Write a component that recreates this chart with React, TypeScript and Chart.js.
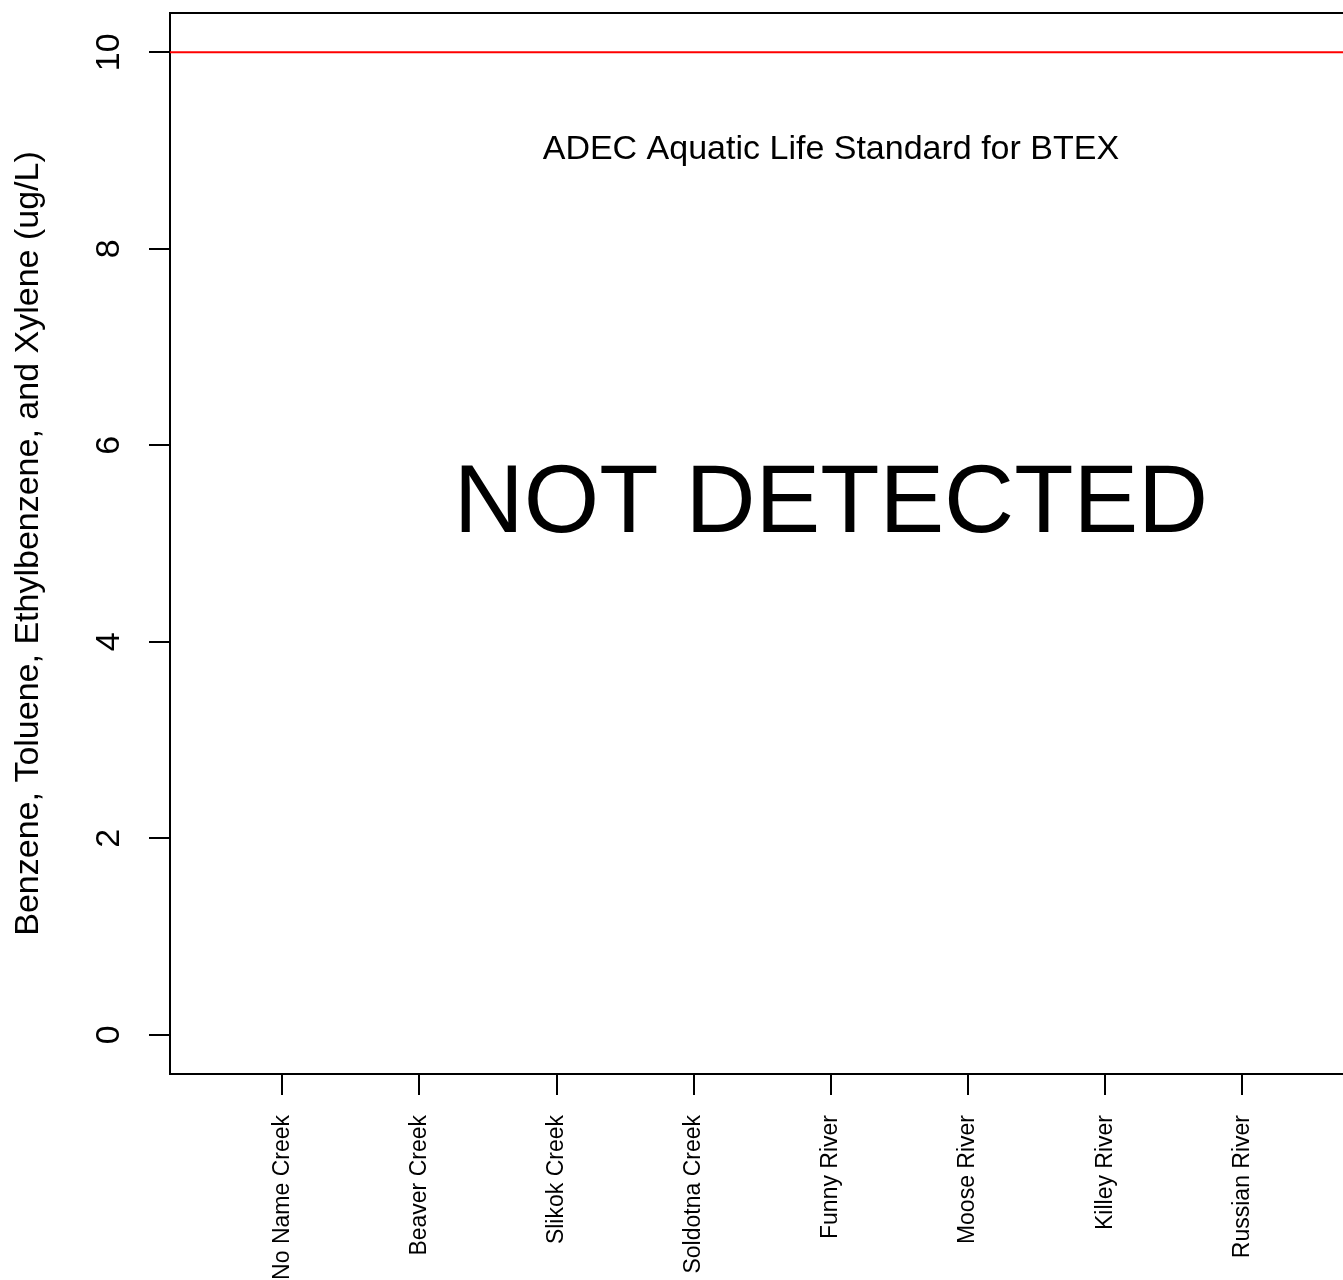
import React, { useEffect, useRef } from "react";
import { Chart, registerables } from "chart.js";

Chart.register(...registerables);

// ---- data ----
const sites = [
  "No Name Creek",
  "Beaver Creek",
  "Slikok Creek",
  "Soldotna Creek",
  "Funny River",
  "Moose River",
  "Killey River",
  "Russian River",
];
const sitePositions = [1, 2, 3, 4, 5, 6, 7, 8];
// BTEX concentrations: none detected at any site
const btexValues: (number | null)[] = [null, null, null, null, null, null, null, null];
const yTickValues = [0, 2, 4, 6, 8, 10];
const yRange = [-0.4, 10.4];
const xRange = [0.181, 8.734];
const standardValue = 10;
const standardLabel = "ADEC Aquatic Life Standard for BTEX";
const standardLabelPos = [5, 9];
const notDetectedLabel = "NOT DETECTED";
const notDetectedPos = [5, 5.5];
const yAxisTitle = "Benzene, Toluene, Ethylbenzene, and Xylene (ug/L)";

const FONT = "'Liberation Sans', Arial, Helvetica, sans-serif";

const textPlugin = {
  id: "plotText",
  afterDatasetsDraw(chart: any) {
    const { ctx, scales } = chart;
    const xs = scales.x;
    const ys = scales.y;
    ctx.save();
    ctx.fillStyle = "#000";
    ctx.textAlign = "center";
    ctx.textBaseline = "alphabetic";
    ctx.font = `34px ${FONT}`;
    ctx.fillText(
      standardLabel,
      xs.getPixelForValue(standardLabelPos[0]),
      ys.getPixelForValue(standardLabelPos[1]) + 8.3
    );
    ctx.font = `97px ${FONT}`;
    ctx.fillText(
      notDetectedLabel,
      xs.getPixelForValue(notDetectedPos[0]),
      ys.getPixelForValue(notDetectedPos[1]) + 37.3
    );
    ctx.restore();
  },
};

const zeroPad = (s: any) => {
  s.paddingTop = 0;
  s.paddingBottom = 0;
  s.paddingLeft = 0;
  s.paddingRight = 0;
};

export default function App() {
  const ref = useRef<HTMLCanvasElement | null>(null);

  useEffect(() => {
    document.body.style.margin = "0";
    const canvas = ref.current!;
    const chart = new Chart(canvas, {
      type: "line",
      data: {
        datasets: [
          {
            type: "line",
            label: "standard",
            data: [
              { x: xRange[0], y: standardValue },
              { x: xRange[1], y: standardValue },
            ],
            borderColor: "#FF0000",
            borderWidth: 2,
            pointRadius: 0,
            xAxisID: "x",
            yAxisID: "y",
          },
          {
            type: "scatter",
            label: "BTEX",
            data: sitePositions.map((p, i) => ({ x: p, y: btexValues[i] as any })),
            pointRadius: 4,
            backgroundColor: "#000",
            xAxisID: "x",
            yAxisID: "y",
          },
        ],
      },
      plugins: [textPlugin],
      options: {
        animation: false,
        responsive: false,
        devicePixelRatio: 1,
        layout: { padding: 0, autoPadding: false },
        plugins: { legend: { display: false }, tooltip: { enabled: false } },
        scales: {
          x: {
            type: "linear",
            position: "bottom",
            min: xRange[0],
            max: xRange[1],
            afterBuildTicks: (s: any) => {
              s.ticks = sitePositions.map((v) => ({ value: v }));
            },
            afterFit: (s: any) => {
              s.height = 206;
              zeroPad(s);
            },
            ticks: {
              autoSkip: false,
              minRotation: 90,
              maxRotation: 90,
              padding: 20,
              color: "#000",
              font: { family: FONT, size: 23 },
              callback: (v: any) => {
                const i = sitePositions.indexOf(Number(v));
                return i >= 0 ? sites[i] : "";
              },
            },
            grid: {
              display: true,
              drawOnChartArea: false,
              drawTicks: true,
              tickLength: 21,
              lineWidth: 2,
              color: "#000",
            },
            border: { display: true, color: "#000", width: 2 },
          },
          xTop: {
            type: "linear",
            position: "top",
            min: xRange[0],
            max: xRange[1],
            afterFit: (s: any) => {
              s.height = 13;
              zeroPad(s);
            },
            ticks: { display: false },
            grid: { display: true, drawOnChartArea: false, drawTicks: false },
            border: { display: true, color: "#000", width: 2 },
          },
          y: {
            type: "linear",
            position: "left",
            min: yRange[0],
            max: yRange[1],
            afterBuildTicks: (s: any) => {
              s.ticks = yTickValues.map((v) => ({ value: v }));
            },
            afterFit: (s: any) => {
              s.width = 170;
              zeroPad(s);
            },
            ticks: {
              minRotation: 90,
              maxRotation: 90,
              crossAlign: "center",
              padding: 20,
              color: "#000",
              font: { family: FONT, size: 34 },
              callback: (v: any) => String(v),
            },
            grid: {
              display: true,
              drawOnChartArea: false,
              drawTicks: true,
              tickLength: 21,
              lineWidth: 2,
              color: "#000",
            },
            border: { display: true, color: "#000", width: 2 },
            title: {
              display: true,
              text: yAxisTitle,
              color: "#000",
              font: { family: FONT, size: 34, lineHeight: 1.2 },
              padding: { top: 7.8, bottom: 0 },
            },
          },
        },
      } as any,
    });
    return () => chart.destroy();
  }, []);

  return (
    <canvas
      ref={ref}
      width={1343}
      height={1280}
      style={{ display: "block", width: 1343, height: 1280 }}
    />
  );
}
